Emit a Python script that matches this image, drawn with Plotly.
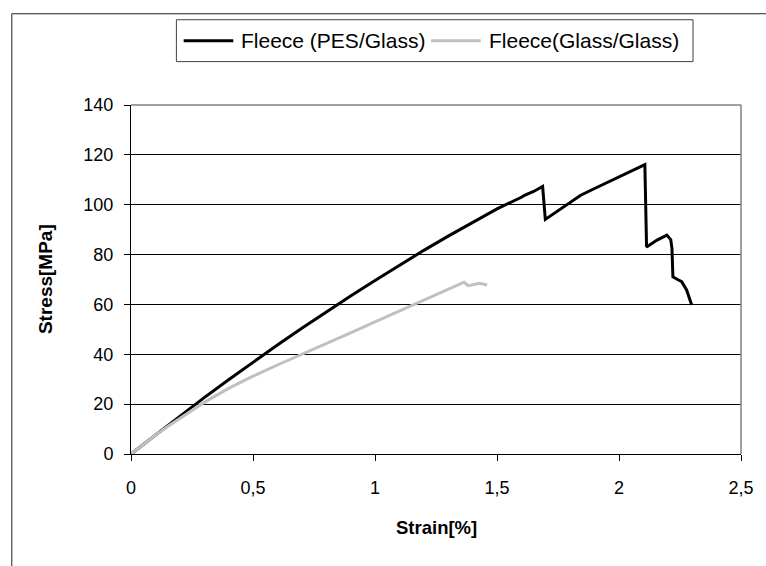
import plotly.graph_objects as go

# Tensile test: Fleece (PES/Glass)
strain_pes = [0, 0.05, 0.1, 0.15, 0.2, 0.3, 0.4, 0.5, 0.6, 0.7, 0.8, 0.9, 1.0,
              1.1, 1.2, 1.3, 1.4, 1.5, 1.6, 1.613, 1.65, 1.687,
              1.698, 1.75, 1.79, 1.843, 1.9, 2.0, 2.05, 2.106, 2.113, 2.156, 2.196,
              2.212, 2.217, 2.221, 2.24, 2.257, 2.277, 2.298]
stress_pes = [0, 3.8, 7.7, 11.5, 15.2, 22.6, 29.8, 36.8, 43.7, 50.4, 57.0, 63.4, 69.6,
              75.7, 81.7, 87.4, 93.0, 98.3, 103.0, 103.8, 105.3, 107.3,
              94.1, 97.6, 100.5, 103.8, 106.5, 111.2, 113.5, 116.1, 83, 85.8, 87.8,
              86, 82.5, 71.1, 70, 69.1, 65.8, 59.8]

# Tensile test: Fleece (Glass/Glass)
strain_glass = [0, 0.05, 0.1, 0.15, 0.2, 0.25, 0.3, 0.4, 0.5, 0.6, 0.702, 0.8, 0.9,
                1.0, 1.1, 1.157, 1.2, 1.3, 1.365, 1.382, 1.41, 1.429, 1.46]
stress_glass = [0, 3.8, 7.5, 11, 14.3, 17.4, 20.7, 26.3, 31.2, 35.7, 40, 44.3, 48.6,
                53, 57.3, 60, 61.8, 66, 68.9, 67.5, 68, 68.5, 67.8]

series_names = ["Fleece (PES/Glass)", "Fleece(Glass/Glass)"]
series_colors = ["#000000", "#C0C0C0"]

x_tickvals = [0, 0.5, 1, 1.5, 2, 2.5]
x_ticktext = ["0", "0,5", "1", "1,5", "2", "2,5"]
y_tickvals = [0, 20, 40, 60, 80, 100, 120, 140]
y_ticktext = ["0", "20", "40", "60", "80", "100", "120", "140"]

FONT = "Liberation Sans, Arial, sans-serif"

fig = go.Figure()
for xs, ys, name, color in zip([strain_pes, strain_glass],
                               [stress_pes, stress_glass],
                               series_names, series_colors):
    fig.add_trace(go.Scatter(x=xs, y=ys, mode="lines", name=name,
                             line=dict(color=color, width=3)))

W, H = 766, 566
L, R, T, B = 131, 21, 104.5, 111.5
pw, ph = W - L - R, H - T - B


def px_x(p):
    return (p - L) / pw


def px_y(p):
    return (H - B - p) / ph


shapes = [
    # plot area border (top and right)
    dict(type="line", xref="paper", yref="paper", x0=0, x1=1, y0=1, y1=1,
         line=dict(color="#808080", width=1.5), layer="above"),
    dict(type="line", xref="paper", yref="paper", x0=1, x1=1, y0=0, y1=1,
         line=dict(color="#808080", width=1.5), layer="above"),
    # chart area frame
    dict(type="rect", xref="paper", yref="paper",
         x0=px_x(11), x1=px_x(800), y0=px_y(13), y1=px_y(600),
         line=dict(color="#202020", width=1), layer="below"),
    # legend box
    dict(type="rect", xref="paper", yref="paper",
         x0=px_x(176.7), x1=px_x(696.7), y0=px_y(19), y1=px_y(61),
         line=dict(color="#404040", width=1), fillcolor="white", layer="above"),
]

annotations = [
    dict(text="<b>Strain[%]</b>", xref="paper", yref="paper",
         x=0.5, y=px_y(528), xanchor="center", yanchor="middle",
         showarrow=False, font=dict(size=18.5)),
    dict(text="<b>Stress[MPa]</b>", xref="paper", yref="paper",
         x=px_x(45), y=0.5, xanchor="center", yanchor="middle",
         textangle=-90, showarrow=False, font=dict(size=19)),
]

# legend entries: sample line followed by the series name
legend_line_x = [(184, 234), (433, 483)]
legend_text_x = [240, 489]
for (lx0, lx1), tx, name, color in zip(legend_line_x, legend_text_x,
                                       series_names, series_colors):
    shapes.append(dict(type="line", xref="paper", yref="paper",
                       x0=px_x(lx0), x1=px_x(lx1), y0=px_y(40), y1=px_y(40),
                       line=dict(color=color, width=3), layer="above"))
    annotations.append(dict(text=name, xref="paper", yref="paper",
                            x=px_x(tx), y=px_y(40), xanchor="left",
                            yanchor="middle", showarrow=False,
                            font=dict(size=21)))

fig.update_layout(
    width=W, height=H,
    margin=dict(l=L, r=R, t=T, b=B, pad=0),
    paper_bgcolor="white", plot_bgcolor="white",
    font=dict(family=FONT, size=18, color="black"),
    showlegend=False,
    xaxis=dict(range=[0, 2.5], tickvals=x_tickvals, ticktext=x_ticktext,
               showgrid=False, zeroline=False, showline=True,
               linecolor="#000000", linewidth=1, ticks="outside",
               ticklen=6, tickcolor="#000000", tickfont=dict(size=18),
               ticklabelstandoff=11),
    yaxis=dict(range=[0, 140], tickvals=y_tickvals, ticktext=y_ticktext,
               showgrid=True, gridcolor="#000000", gridwidth=1,
               zeroline=False, showline=True, linecolor="#000000",
               linewidth=1, ticks="outside", ticklen=6,
               tickcolor="#000000", tickfont=dict(size=18),
               ticklabelstandoff=7),
    shapes=shapes,
    annotations=annotations,
)

fig.write_html("out.html")
